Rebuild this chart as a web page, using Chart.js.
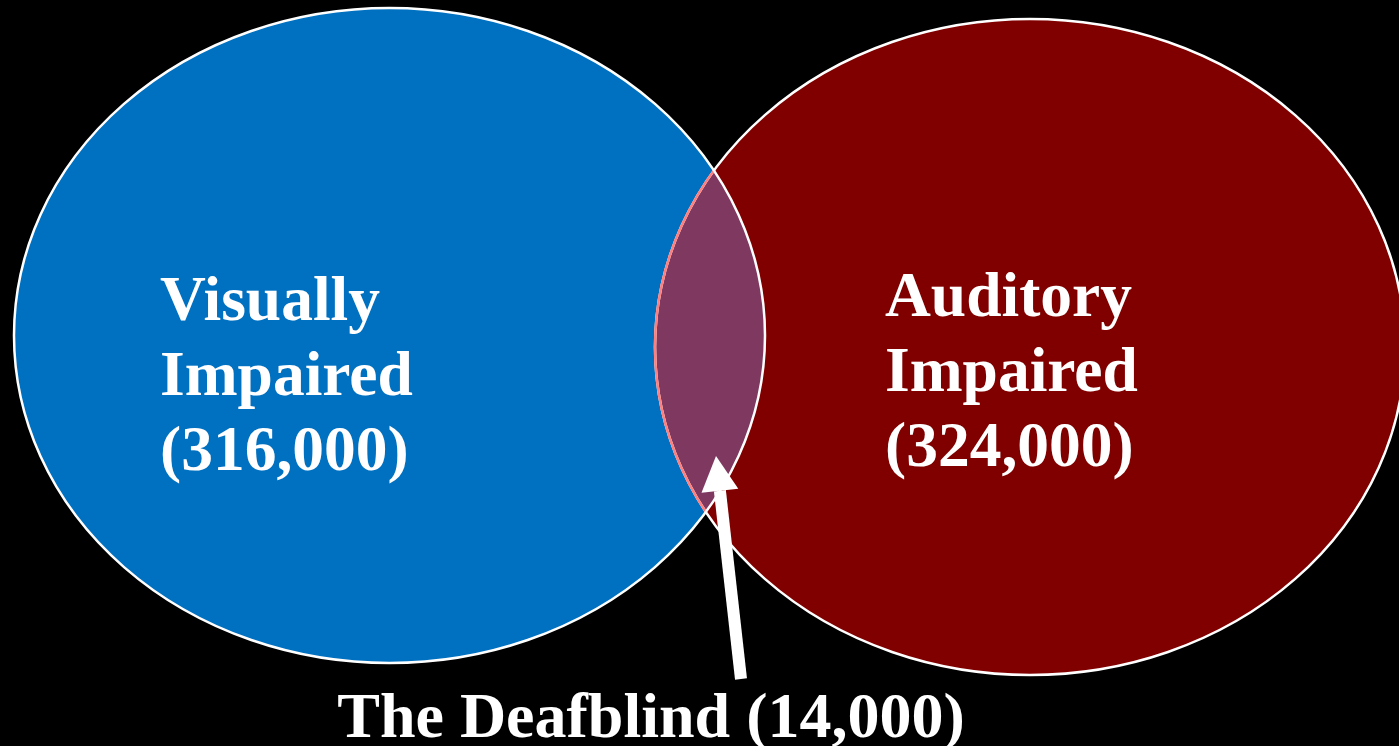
<!DOCTYPE html>
<html>
<head>
<meta charset="utf-8">
<script src="https://cdn.jsdelivr.net/npm/chart.js@4.4.1/dist/chart.umd.min.js"></script>
<style>
  html, body { margin: 0; padding: 0; background: #000000; }
  .chart-container { position: relative; width: 1399px; height: 746px; }
</style>
</head>
<body>
<div class="chart-container">
  <canvas id="venn-chart"></canvas>
</div>
<script>
// Venn data
const groupNames = [['Visually', 'Impaired'], ['Auditory', 'Impaired']];
const groupCounts = [316000, 324000];
const overlapName = 'The Deafblind';
const overlapCount = 14000;

// Layout in axis units (axes span the whole canvas)
const ellipseCenters = [{ x: 389.5, y: 335.5 }, { x: 1030, y: 347 }];
const ellipseRadii = [{ rx: 375.5, ry: 327.5 }, { rx: 375, ry: 328 }];
const labelAnchors = [{ x: 160, y: 320 }, { x: 885, y: 316 }];

const fillColors = ['#0070c0', '#800000'];
const overlapColor = '#7f3960';

const fmt = n => '(' + n.toLocaleString('en-US') + ')';

function ellipsePath(ctx, chart, i) {
  const xs = chart.scales.x, ys = chart.scales.y;
  const c = ellipseCenters[i], r = ellipseRadii[i];
  const cx = xs.getPixelForValue(c.x), cy = ys.getPixelForValue(c.y);
  const rx = Math.abs(xs.getPixelForValue(c.x + r.rx) - cx);
  const ry = Math.abs(ys.getPixelForValue(c.y + r.ry) - cy);
  ctx.beginPath();
  ctx.ellipse(cx, cy, rx, ry, 0, 0, Math.PI * 2);
}

const vennPlugin = {
  id: 'venn',
  beforeDraw(chart) {
    const ctx = chart.ctx;
    ctx.save();
    ctx.fillStyle = '#000000';
    ctx.fillRect(0, 0, chart.width, chart.height);
    ctx.restore();
  },
  afterDatasetsDraw(chart) {
    const ctx = chart.ctx;
    const xs = chart.scales.x, ys = chart.scales.y;
    ctx.save();

    // Sets
    groupCounts.forEach((_, i) => {
      ellipsePath(ctx, chart, i);
      ctx.fillStyle = fillColors[i];
      ctx.fill();
    });
    // Intersection
    ctx.save();
    ellipsePath(ctx, chart, 0);
    ctx.clip();
    ellipsePath(ctx, chart, 1);
    ctx.fillStyle = overlapColor;
    ctx.fill();
    ctx.restore();

    // Outlines
    ctx.lineWidth = 2.5;
    ctx.strokeStyle = '#ffffff';
    ellipsePath(ctx, chart, 1);
    ctx.stroke();
    ctx.save();
    ellipsePath(ctx, chart, 0);
    ctx.clip();
    ellipsePath(ctx, chart, 1);
    ctx.strokeStyle = '#ff7f7f';
    ctx.stroke();
    ctx.restore();
    ellipsePath(ctx, chart, 0);
    ctx.strokeStyle = '#ffffff';
    ctx.stroke();

    // Group labels
    ctx.fillStyle = '#ffffff';
    ctx.font = 'bold 63.5px "Liberation Serif", "Times New Roman", serif';
    ctx.textAlign = 'left';
    ctx.textBaseline = 'alphabetic';
    groupNames.forEach((lines, i) => {
      const ax = xs.getPixelForValue(labelAnchors[i].x);
      const ay = ys.getPixelForValue(labelAnchors[i].y);
      const all = lines.concat([fmt(groupCounts[i])]);
      all.forEach((t, k) => ctx.fillText(t, ax, ay + k * 75));
    });

    // Arrow to intersection
    const tail = { x: xs.getPixelForValue(741), y: ys.getPixelForValue(679) };
    const tip = { x: xs.getPixelForValue(716), y: ys.getPixelForValue(456) };
    const ang = Math.atan2(tip.y - tail.y, tip.x - tail.x);
    const headLen = 35, headHalf = 18.5;
    const bx = tip.x - Math.cos(ang) * headLen, by = tip.y - Math.sin(ang) * headLen;
    ctx.strokeStyle = '#ffffff';
    ctx.lineWidth = 12;
    ctx.lineCap = 'butt';
    ctx.beginPath();
    ctx.moveTo(tail.x, tail.y);
    ctx.lineTo(bx, by);
    ctx.stroke();
    ctx.beginPath();
    ctx.moveTo(tip.x, tip.y);
    ctx.lineTo(bx + Math.sin(ang) * headHalf, by - Math.cos(ang) * headHalf);
    ctx.lineTo(bx - Math.sin(ang) * headHalf, by + Math.cos(ang) * headHalf);
    ctx.closePath();
    ctx.fillStyle = '#ffffff';
    ctx.fill();

    // Overlap caption
    ctx.font = 'bold 64px "Liberation Serif", "Times New Roman", serif';
    ctx.textAlign = 'center';
    ctx.fillText(overlapName + ' ' + fmt(overlapCount),
      xs.getPixelForValue(651), ys.getPixelForValue(737), 628);

    ctx.restore();
  }
};

const ctx = document.getElementById('venn-chart').getContext('2d');
new Chart(ctx, {
  type: 'scatter',
  data: {
    datasets: [{
      label: 'Sets',
      data: ellipseCenters.map((c, i) => ({ x: c.x, y: c.y, count: groupCounts[i] })),
      pointRadius: 0,
      pointHoverRadius: 0
    }]
  },
  options: {
    responsive: true,
    maintainAspectRatio: false,
    animation: false,
    layout: { padding: 0 },
    scales: {
      x: { type: 'linear', min: 0, max: 1399, display: false },
      y: { type: 'linear', min: 0, max: 746, reverse: true, display: false }
    },
    plugins: {
      legend: { display: false },
      tooltip: { enabled: false }
    }
  },
  plugins: [vennPlugin]
});
</script>
</body>
</html>
